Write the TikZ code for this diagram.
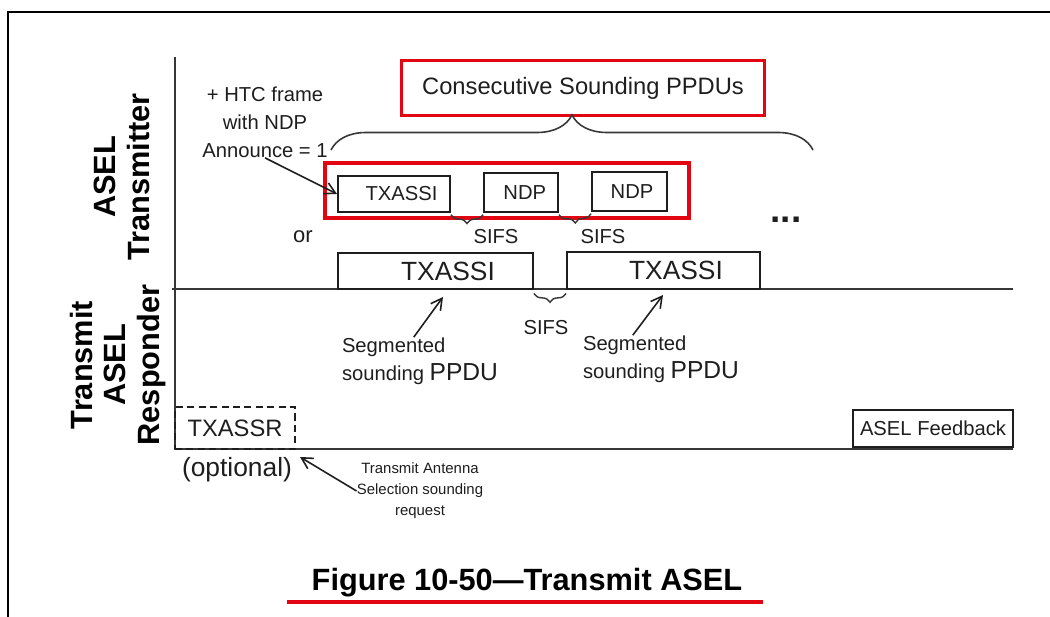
\documentclass[tikz,border=0pt]{standalone}
\usepackage{fontspec}
\setmainfont{Liberation Sans}
\usetikzlibrary{arrows.meta,positioning,calc,decorations.pathreplacing}
\definecolor{AselInk}{RGB}{30,30,30}
\definecolor{AselLine}{RGB}{55,55,55}
\definecolor{AselRed}{RGB}{226,6,18}
\tikzset{
  asel/box/.style={
    draw=AselInk,
    line width=1.1pt,
    text=AselInk,
    inner sep=0pt,
    font=\fontsize{11.5}{13}\selectfont
  },
  asel/bigbox/.style={
    asel/box,
    font=\fontsize{15}{17}\selectfont
  },
  asel/dashbox/.style={
    asel/box,
    line width=1.3pt,
    dash pattern=on 4pt off 2.5pt,
    font=\fontsize{13.5}{15}\selectfont
  },
  asel/redbox/.style={
    draw=AselRed,
    line width=2.2pt,
    inner sep=0pt,
    text=AselInk,
    font=\fontsize{13.5}{15}\selectfont
  },
  asel/label/.style={font=\fontsize{11.5}{16}\selectfont, text=AselInk, inner sep=0pt, align=center},
  asel/seg/.style={font=\fontsize{11.5}{16}\selectfont, text=AselInk, inner sep=0pt, align=left},
  asel/tiny/.style={font=\fontsize{8.5}{12}\selectfont, text=AselInk, inner sep=0pt, align=center},
  asel/side/.style={font=\bfseries\fontsize{17.5}{19}\selectfont, rotate=90, align=center, inner sep=0pt},
  asel/arrow/.style={-{Straight Barb[length=2.2mm,width=2.4mm]}, line width=0.9pt, draw=AselInk},
  asel/brace/.style={decorate, decoration={brace, amplitude=5pt, mirror}, line width=0.8pt, draw=AselLine},
  asel/bigbrace/.style={decorate, decoration={brace, amplitude=0.7cm}, line width=0.9pt, draw=AselLine},
  asel/axis/.style={line width=0.9pt, draw=AselLine}
}
\begin{document}
\begin{tikzpicture}[x=0.02cm,y=-0.02cm]
  \path[use as bounding box, fill=white] (0,0) rectangle (1050,617);
  \draw[line width=1.5pt] (8,617) -- (8,12) -- (1050,12);

  \node[asel/side] (tx) at (122,177) {ASEL\\Transmitter};
  \node[asel/side] (rx) at (118,365) {Transmit\\ASEL\\Responder};

  \coordinate (axtop) at (175,57);
  \coordinate (axbot) at (175,449);
  \coordinate (axend) at (1013,449);
  \coordinate (midl) at (172,289);
  \coordinate (midr) at (1013,289);
  \draw[asel/axis] (axtop) -- (axbot) -- (axend);
  \draw[asel/axis] (midl) -- (midr);

  \node[asel/redbox,minimum width=7.26cm,minimum height=1.1cm] (cons) at (583,88) {Consecutive Sounding PPDUs};
  \coordinate (bl) at (331,150);
  \coordinate (br) at (813,150);
  \draw[asel/bigbrace] (bl) -- (br);

  \node[asel/label] (htc) at (265,122) {+ HTC frame\\with NDP\\Announce = 1};

  \node[asel/box,minimum width=2.24cm,minimum height=0.72cm] (txassi) at (394,194) {\hspace*{0.3cm}TXASSI};
  \node[asel/box,minimum width=1.48cm,minimum height=0.78cm] (ndpa) at (521,192.5) {\hspace*{0.15cm}NDP};
  \node[asel/box,minimum width=1.5cm,minimum height=0.78cm] (ndpb) at (629.5,191.5) {\hspace*{0.1cm}NDP};
  \node[asel/redbox,minimum width=7.28cm,minimum height=1.1cm] (row) at (507,190.5) {};
  \draw[asel/arrow] (htc.south) -- (txassi.west);

  \draw[asel/brace] ([yshift=-1pt]txassi.south east) -- ([yshift=-1pt]ndpa.south west);
  \draw[asel/brace] ([yshift=-1pt]ndpa.south east) -- ([yshift=-1pt]ndpb.south west);
  \node[asel/label] (sifsa) at (496,237) {SIFS};
  \node[asel/label] (sifsb) at (603,237) {SIFS};

  \node[asel/label,font=\fontsize{12.5}{14}\selectfont] (or) at (303,237) {or};
  \node[asel/label,font=\bfseries\fontsize{21}{22}\selectfont] (dots) at (786,220) {...};

  \node[asel/bigbox,minimum width=3.9cm,minimum height=0.72cm] (biga) at (435.5,271) {\hspace*{0.5cm}TXASSI};
  \node[asel/bigbox,minimum width=3.86cm,minimum height=0.74cm] (bigb) at (663.5,270.5) {\hspace*{0.5cm}TXASSI};
  \draw[asel/brace] ([yshift=-2pt]biga.south east) -- ([yshift=-2pt]bigb.south west);
  \node[asel/label] (sifsc) at (546,328) {SIFS};

  \node[asel/seg] (sega) at (420,361) {Segmented\\sounding {\fontsize{14}{16}\selectfont PPDU}};
  \node[asel/seg] (segb) at (661,359) {Segmented\\sounding {\fontsize{14}{16}\selectfont PPDU}};
  \coordinate (tipa) at (443,297);
  \coordinate (tipb) at (663,295);
  \draw[asel/arrow] ($(sega.north west)!0.46!(sega.north east)$) -- (tipa);
  \draw[asel/arrow] ($(segb.north west)!0.32!(segb.north east)$) -- (tipb);

  \node[asel/dashbox,minimum width=2.4cm,minimum height=0.84cm] (txassr) at (235,428) {TXASSR};
  \node[asel/label,font=\fontsize{15}{17}\selectfont] (opt) at (237,470) {(optional)};
  \node[asel/tiny] (tas) at (420,491) {Transmit Antenna\\Selection sounding\\request};
  \coordinate (optarr) at (300,457);
  \draw[asel/arrow] (tas.west) -- (optarr);

  \node[asel/box,fill=white,minimum width=3.2cm,minimum height=0.74cm] (fb) at (933,428.5) {ASEL Feedback};

  \node[font=\bfseries\fontsize{17.5}{20}\selectfont, inner sep=0pt] (cap) at (527,583) {Figure 10-50---Transmit ASEL};
  \coordinate (ull) at (287,602);
  \coordinate (ulr) at (763,602);
  \draw[AselRed, line width=2.3pt] (ull) -- (ulr);
\end{tikzpicture}
\end{document}
